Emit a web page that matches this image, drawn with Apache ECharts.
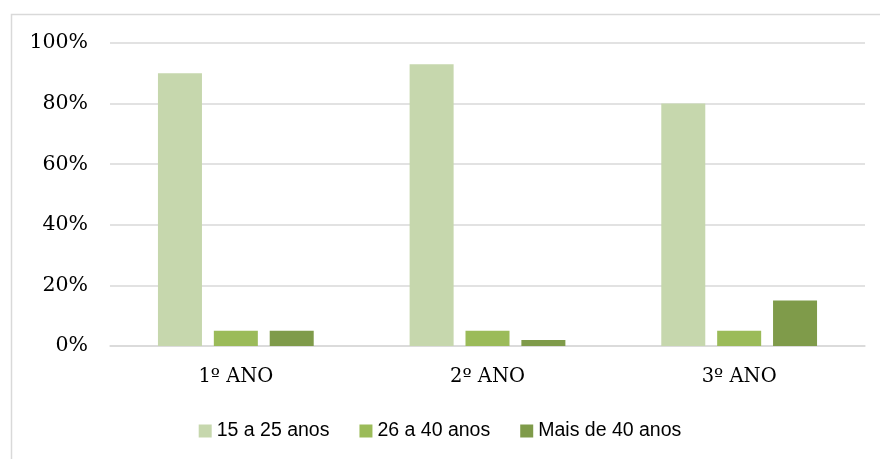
<!DOCTYPE html>
<html>
<head>
    <meta charset="utf-8">
    <script src="https://cdn.jsdelivr.net/npm/echarts@6/dist/echarts.min.js"></script>
    <style>
        html, body { margin: 0; padding: 0; background: #fff; }
    </style>
</head>
<body>
<div id="main" style="width: 880px;height:459px;"></div>
<script type="text/javascript">
    // dados do gráfico
    var categorias = ['1º ANO', '2º ANO', '3º ANO'];
    var series15a25 = [90, 93, 80];
    var series26a40 = [5, 5, 5];
    var seriesMais40 = [5, 2, 15];
    var nomesSeries = ['15 a 25 anos', '26 a 40 anos', 'Mais de 40 anos'];
    var cores = ['#c6d7ad', '#9bbb59', '#7f9b4a'];

    var myChart = echarts.init(document.getElementById('main'));

    function barra(nome, dados, cor) {
        return {
            name: nome,
            type: 'bar',
            data: dados,
            barWidth: 44,
            barGap: '27%',
            itemStyle: { color: cor },
            emphasis: { disabled: true }
        };
    }

    var option = {
        animation: false,
        color: cores,
        // moldura cinza (topo e esquerda visíveis)
        graphic: [{
            type: 'rect',
            left: 9,
            top: 12,
            shape: { width: 900, height: 480 },
            style: { fill: 'none', stroke: '#d9d9d9', lineWidth: 1.5 },
            silent: true
        }],
        grid: { left: 110, right: 15, top: 43, bottom: 113, containLabel: false },
        legend: {
            data: nomesSeries,
            bottom: 13,
            left: 'center',
            itemWidth: 13,
            itemHeight: 13,
            itemGap: 30,
            icon: 'rect',
            textStyle: { fontFamily: 'Liberation Sans', fontSize: 19.5, color: '#000' }
        },
        xAxis: {
            type: 'category',
            data: categorias,
            axisTick: { show: false },
            axisLine: { lineStyle: { color: '#d9d9d9', width: 1.5 } },
            axisLabel: { fontFamily: 'DejaVu Serif', fontSize: 19.5, color: '#000', margin: 21 }
        },
        yAxis: {
            type: 'value',
            min: 0,
            max: 100,
            interval: 20,
            axisLine: { show: false },
            axisTick: { show: false },
            splitLine: { lineStyle: { color: '#d9d9d9', width: 1.5 } },
            axisLabel: {
                fontFamily: 'DejaVu Serif', fontSize: 20.5, color: '#000', margin: 22,
                formatter: '{value}%'
            }
        },
        series: [
            barra(nomesSeries[0], series15a25, cores[0]),
            barra(nomesSeries[1], series26a40, cores[1]),
            barra(nomesSeries[2], seriesMais40, cores[2])
        ]
    };

    myChart.setOption(option);
</script>
</body>
</html>
